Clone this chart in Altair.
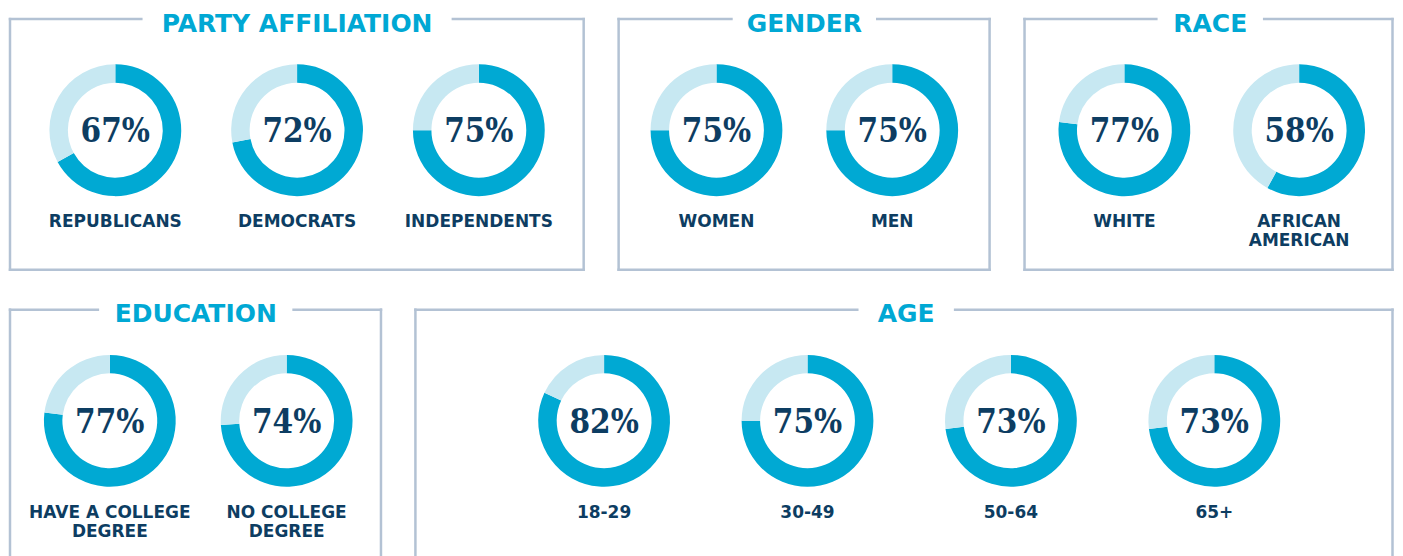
import altair as alt
import pandas as pd

# ---------------- data ----------------
group_titles = ["PARTY AFFILIATION", "GENDER", "RACE", "EDUCATION", "AGE"]

party_labels = ["REPUBLICANS", "DEMOCRATS", "INDEPENDENTS"]
party_values = [67, 72, 75]

gender_labels = ["WOMEN", "MEN"]
gender_values = [75, 75]

race_labels = ["WHITE", "AFRICAN AMERICAN"]
race_values = [77, 58]

education_labels = ["HAVE A COLLEGE DEGREE", "NO COLLEGE DEGREE"]
education_values = [77, 74]

age_labels = ["18-29", "30-49", "50-64", "65+"]
age_values = [82, 75, 73, 73]

label_lines = {
    "AFRICAN AMERICAN": "AFRICAN\nAMERICAN",
    "HAVE A COLLEGE DEGREE": "HAVE A COLLEGE\nDEGREE",
    "NO COLLEGE DEGREE": "NO COLLEGE\nDEGREE",
}

# ---------------- style ----------------
DARK = "#00a9d3"
LIGHT = "#c7e8f2"
NAVY = "#0d3d62"
TITLE_C = "#00a8d4"
BOX = "#b3c2d4"
BOX_W = 2.5
PCT_FONT = "DejaVu Serif Condensed, Liberation Serif, serif"


def panel(title, labels, values, width, height, pad, half_gap, xoff=0, toff=0, bottom=True):
    seg_rows = []
    for lab, v in zip(labels, values):
        frac = v / 100.0
        seg_rows.append({"label": lab, "part": "yes", "start": 0.0, "end": frac})
        seg_rows.append({"label": lab, "part": "no", "start": frac, "end": 1.0})
    seg = pd.DataFrame(seg_rows)
    info = pd.DataFrame({
        "label": labels,
        "pct": [f"{v}%" for v in values],
        "text": [label_lines.get(l, l) for l in labels],
    })

    x = alt.X("label:N", sort=labels,
              scale=alt.Scale(type="point", padding=pad), axis=None)

    rings = alt.Chart(seg).mark_arc(outerRadius=66, innerRadius=47.5, xOffset=xoff).encode(
        x=x,
        y=alt.value(122),
        theta=alt.Theta("start:Q", stack=None, scale=alt.Scale(domain=[0, 1])),
        theta2="end:Q",
        color=alt.Color("part:N", scale=alt.Scale(domain=["yes", "no"], range=[DARK, LIGHT]),
                        legend=None),
    )
    pct = alt.Chart(info).mark_text(
        font=PCT_FONT, fontWeight="bold", fontSize=33, color=NAVY,
        baseline="alphabetic", align="center", xOffset=xoff,
    ).encode(x=x, y=alt.value(134), text="pct:N")
    labs = alt.Chart(info).mark_text(
        font="DejaVu Sans", fontWeight="bold", fontSize=17, color=NAVY,
        baseline="alphabetic", align="center", lineBreak="\n", lineHeight=19, xOffset=xoff,
    ).encode(x=x, y=alt.value(219), text="text:N")

    one = pd.DataFrame({"t": [title]})
    cx = width / 2.0 + toff
    ttl = alt.Chart(one).mark_text(
        font="DejaVu Sans", fontWeight="bold", fontSize=25, color=TITLE_C,
        baseline="alphabetic", align="center",
    ).encode(x=alt.value(cx), y=alt.value(23.3), text="t:N")

    top_y = 10.7
    bot_y = height - 2.3
    left_x = 1
    right_x = width - 1.5

    def rule(**enc):
        return alt.Chart(one).mark_rule(color=BOX, strokeWidth=BOX_W, strokeCap="square").encode(**enc)

    layers = [
        rings, pct, labs, ttl,
        rule(x=alt.value(left_x), y=alt.value(top_y), y2=alt.value(bot_y)),
        rule(x=alt.value(right_x), y=alt.value(top_y), y2=alt.value(bot_y)),
        rule(x=alt.value(left_x), x2=alt.value(cx - half_gap), y=alt.value(top_y)),
        rule(x=alt.value(cx + half_gap), x2=alt.value(right_x), y=alt.value(top_y)),
    ]
    if bottom:
        layers.append(rule(x=alt.value(left_x), x2=alt.value(right_x), y=alt.value(bot_y)))
    return alt.layer(*layers).properties(width=width, height=height)


H1 = 264
H2 = 262
p_party = panel(group_titles[0], party_labels, party_values, 577, H1, 0.585, 156)
p_gender = panel(group_titles[1], gender_labels, gender_values, 374, H1, 0.5625, 73)
p_race = panel(group_titles[2], race_labels, race_values, 371, H1, 0.56, 54, xoff=3, toff=1.5)
p_edu = panel(group_titles[3], education_labels, education_values, 374, H2, 0.556, 98,
              xoff=2.5, bottom=False)
p_age = panel(group_titles[4], age_labels, age_values, 981, H2, 0.908, 49,
              xoff=5, toff=2, bottom=False)

row1 = alt.hconcat(p_party, p_gender, p_race, spacing=32.5, bounds="flush")
row2 = alt.hconcat(p_edu, p_age, spacing=32, bounds="flush")

chart = alt.vconcat(row1, row2, spacing=27).properties(
    padding=0, background="white"
).configure_view(stroke=None, strokeWidth=0)

chart.save("out.html", embed_options={"renderer": "svg", "actions": False})
